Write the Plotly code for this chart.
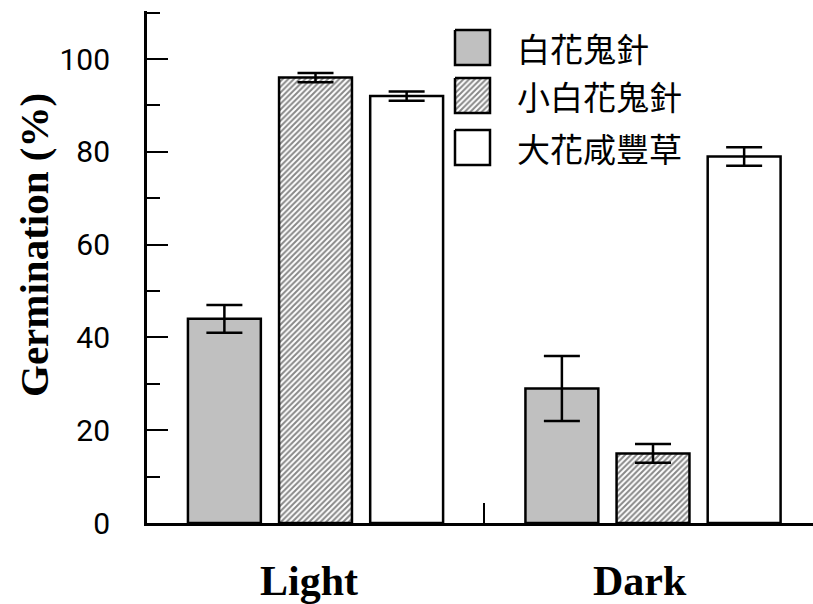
import plotly.graph_objects as go

groups = ["Light", "Dark"]
species = ["白花鬼針", "小白花鬼針", "大花咸豐草"]
values = {
    "白花鬼針": [44, 29],
    "小白花鬼針": [96, 15],
    "大花咸豐草": [92, 79],
}
errors = {
    "白花鬼針": [3, 7],
    "小白花鬼針": [1, 2],
    "大花咸豐草": [1, 2],
}
y_ticks = [0, 20, 40, 60, 80, 100]

fills = {"白花鬼針": "#c0c0c0", "小白花鬼針": "white", "大花咸豐草": "white"}
patterns = {"白花鬼針": "", "小白花鬼針": "/", "大花咸豐草": ""}
hatch = dict(shape="/", fgcolor="#111111", bgcolor="white", size=4, solidity=0.5)

W, H = 813, 604
L, R, T, B = 147, 0, 11, 81
px_per_unit = 4.64
y_top = (H - B - T) / px_per_unit
PW, PH = W - L - R, H - T - B

fig = go.Figure()
for s in species:
    marker = dict(color=fills[s], line=dict(color="black", width=2.5))
    if patterns[s]:
        marker["pattern"] = hatch
    fig.add_trace(go.Bar(
        x=groups, y=values[s], name=s, marker=marker,
        error_y=dict(type="data", array=errors[s], color="black", thickness=2.5, width=18),
        showlegend=False,
    ))

# legend swatches in pixel coordinates on an overlay axis pair
rows = [(30, 65), (78, 113), (130, 165)]
for s, (y0, y1) in zip(species, rows):
    kw = {}
    if patterns[s]:
        kw["fillpattern"] = hatch
    fig.add_trace(go.Scatter(
        x=[455, 490, 490, 455, 455], y=[y0, y0, y1, y1, y0],
        xaxis="x2", yaxis="y2", mode="lines", fill="toself",
        fillcolor=fills[s], line=dict(color="black", width=2.5),
        showlegend=False, hoverinfo="skip", **kw,
    ))
    fig.add_annotation(x=515, y=(y0 + y1) / 2, xref="x2", yref="y2", text=s,
                       showarrow=False, xanchor="left", yanchor="middle",
                       font=dict(family="Noto Sans CJK TC", size=33, color="black"))

# group labels under the axis
label_x = [309, 640]
for g, lx in zip(groups, label_x):
    fig.add_annotation(x=lx, y=(H - B - 581) / PH, xref="x2", yref="paper",
                       text=f"<b>{g}</b>", showarrow=False,
                       xanchor="center", yanchor="middle",
                       font=dict(family="Liberation Serif", size=42, color="black"))

fig.add_annotation(x=(34 - L) / PW, y=(H - B - 245) / PH, xref="paper", yref="paper",
                   text="<b>Germination (%)</b>",
                   showarrow=False, textangle=-90, xanchor="center", yanchor="middle",
                   font=dict(family="Liberation Serif", size=41, color="black"))

unit = 337.5
fig.update_layout(
    width=W, height=H,
    margin=dict(l=L, r=R, t=T, b=B, autoexpand=False),
    paper_bgcolor="white", plot_bgcolor="white",
    barmode="group", bargap=0.19, bargroupgap=0.2,
    xaxis=dict(range=[-0.4993, -0.4993 + PW / unit], showline=True, linecolor="black", linewidth=2.5,
               ticks="inside", tickson="boundaries", ticklen=20, tickwidth=2, tickcolor="black",
               showticklabels=False,
               showgrid=False, zeroline=False, automargin=False),
    yaxis=dict(range=[0, y_top], showline=True, linecolor="black", linewidth=3,
               tickvals=y_ticks, ticks="inside", ticklen=21, tickwidth=2, tickcolor="black",
               minor=dict(dtick=10, tick0=0, ticks="inside", ticklen=13, tickwidth=2, tickcolor="black", showgrid=False),
               tickfont=dict(family="Roboto", size=30, color="black"), ticklabelstandoff=28,
               showgrid=False, zeroline=False, automargin=False),
    xaxis2=dict(overlaying="x", range=[L, W - R], visible=False, fixedrange=True),
    yaxis2=dict(overlaying="y", range=[H - B, T], visible=False, fixedrange=True),
)

fig.write_html("out.html", config={"displayModeBar": False},
               post_script="document.body.style.margin='0';document.body.style.overflow='hidden';")
